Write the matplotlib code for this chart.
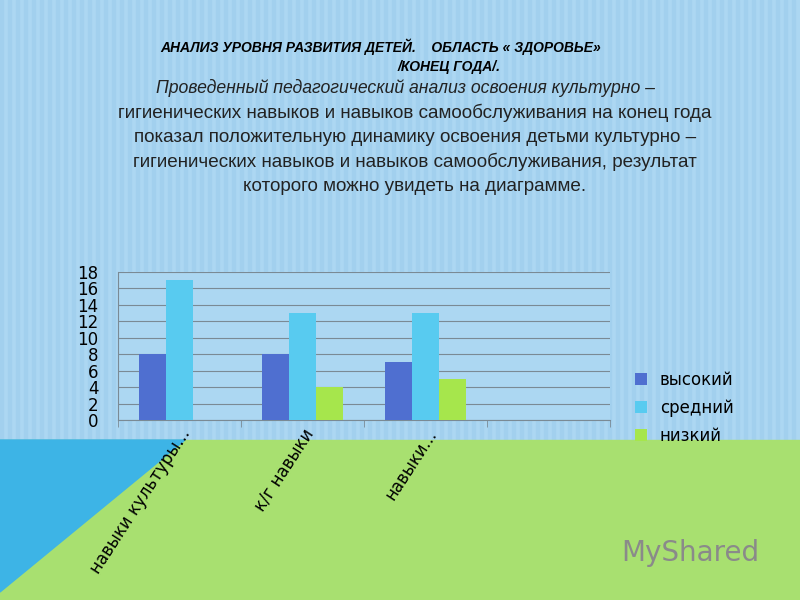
import numpy as np
import matplotlib.pyplot as plt
from matplotlib.patches import Polygon, Rectangle

categories = ["навыки культуры...", "к/г навыки", "навыки...", ""]
high = [8, 8, 7, 0]
mid = [17, 13, 13, 0]
low = [0, 4, 5, 0]
yticks = [0, 2, 4, 6, 8, 10, 12, 14, 16, 18]

W, H = 800, 600
fig = plt.figure(figsize=(8, 6), dpi=100)

# background: striped blue slide with green bottom
bg = fig.add_axes([0, 0, 1, 1])
bg.set_xlim(0, W); bg.set_ylim(H, 0); bg.axis("off")
bg.add_patch(Rectangle((0, 0), W, H, color="#acd7f2", zorder=0))
for x in range(0, W, 8):
    bg.add_patch(Rectangle((x, 0), 3, H, color="#a2d0ee", zorder=1))
bg.add_patch(Polygon([(0, 440), (W, 440), (W, H), (0, H)], color="#a8e070", zorder=2))
bg.add_patch(Polygon([(0, 440), (185, 440), (0, 592)], color="#3db4e6", zorder=3))
bg.text(690, 553, "MyShared", fontsize=20, color="#8a8a8a", ha="center", va="center", zorder=4)

def ft(x, y, s, **kw):
    fig.text(x / W, 1 - y / H, s, **kw)

ft(160, 47, "АНАЛИЗ УРОВНЯ РАЗВИТИЯ ДЕТЕЙ.    ОБЛАСТЬ « ЗДОРОВЬЕ»", fontsize=10,
   fontweight="bold", style="italic", va="center", family="Liberation Sans")
ft(398, 67, "/КОНЕЦ ГОДА/.", fontsize=10, fontweight="bold", style="italic",
   va="center", family="Liberation Sans")
para = ["Проведенный педагогический анализ освоения культурно –",
        "гигиенических навыков и навыков самообслуживания на конец года",
        "показал положительную динамику освоения детьми культурно –",
        "гигиенических навыков и навыков самообслуживания, результат",
        "которого можно увидеть на диаграмме."]
for i, line in enumerate(para):
    ft(405 if i == 0 else 415, 88 + i * 24.7, line, fontsize=12.7 if i == 0 else 13.6,
       style="italic" if i == 0 else "normal",
       ha="center", va="center", family="Liberation Sans", color="#222222")

ax = fig.add_axes([118 / W, 1 - 420 / H, 492 / W, 148 / H])
ax.set_facecolor("#acd7f2")
x = np.arange(len(categories))
bw = 0.22
ax.bar(x - bw, high, bw, color="#4f6fd0", label="высокий", zorder=3)
ax.bar(x, mid, bw, color="#58cbf0", label="средний", zorder=3)
ax.bar(x + bw, low, bw, color="#a6e64c", label="низкий", zorder=3)
ax.set_xlim(-0.5, 3.5)
ax.set_ylim(0, 18)
ax.set_yticks(yticks)
ax.tick_params(axis="y", labelsize=12, length=0, pad=14)
ax.yaxis.grid(True, color="#7a8a95", lw=0.8, zorder=0)
ax.set_xticks(x)
ax.set_xticklabels(categories, rotation=57, ha="right", rotation_mode="anchor", fontsize=12)
ax.tick_params(axis="x", length=0, pad=4)
ax.set_xticks(np.arange(-0.5, 4, 1), minor=True)
ax.tick_params(axis="x", which="minor", length=5, color="#7a8a95")
for s in ["top", "right"]:
    ax.spines[s].set_visible(False)
for s in ["left", "bottom"]:
    ax.spines[s].set_color("#7a8a95")
ax.legend(loc="center left", bbox_to_anchor=(1.02, 0.08), frameon=False, fontsize=12,
          handlelength=0.7, handleheight=0.7, labelspacing=0.6)

fig.savefig("out.png", dpi=100)
